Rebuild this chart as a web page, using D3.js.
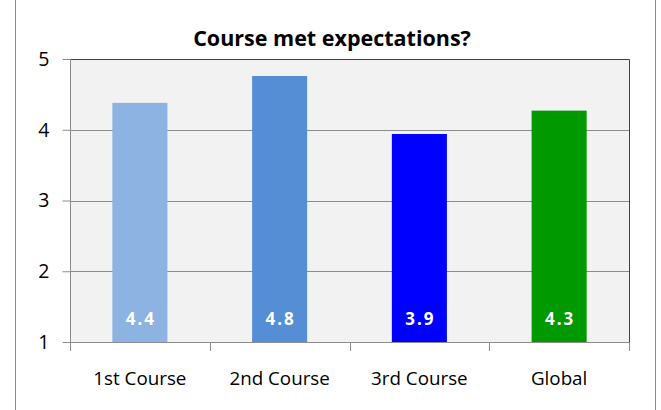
<!DOCTYPE html>
<html>
<head>
<meta charset="utf-8">
<title>Course met expectations?</title>
<script src="https://d3js.org/d3.v7.min.js"></script>
<style>
  body { margin: 0; background: #fff; }
  text { font-family: "Open Sans", "Noto Sans", sans-serif; }
</style>
</head>
<body>
<script>
// data
var categories = ["1st Course", "2nd Course", "3rd Course", "Global"];
var scores = [4.38, 4.76, 3.94, 4.27];
var barColors = ["#8db3e2", "#558ed5", "#0000ff", "#009900"];
var yTicks = [1, 2, 3, 4, 5];
var chartTitle = "Course met expectations?";

var width = 661, height = 410;
var plot = {left: 70, right: 629, top: 59, bottom: 342};

var svg = d3.select("body").append("svg")
  .attr("width", width)
  .attr("height", height);

// outer frame (left + right edges only visible)
svg.append("line").attr("x1", 15.5).attr("x2", 15.5).attr("y1", 0).attr("y2", height)
  .attr("stroke", "#8c8c8c").attr("stroke-width", 1);
svg.append("line").attr("x1", 655.5).attr("x2", 655.5).attr("y1", 0).attr("y2", height)
  .attr("stroke", "#8c8c8c").attr("stroke-width", 1);

var x = d3.scaleBand()
  .domain(categories)
  .range([plot.left, plot.right])
  .paddingInner(0.606)
  .paddingOuter(0.303);

var y = d3.scaleLinear()
  .domain([1, 5])
  .range([plot.bottom, plot.top]);

// plot background
svg.append("rect")
  .attr("x", plot.left).attr("y", plot.top)
  .attr("width", plot.right - plot.left)
  .attr("height", plot.bottom - plot.top)
  .attr("fill", "#f2f2f2");

// gridlines
svg.append("g").selectAll("line")
  .data(yTicks.filter(function(t) { return t > 1 && t < 5; }))
  .enter().append("line")
  .attr("x1", plot.left).attr("x2", plot.right)
  .attr("y1", function(d) { return Math.round(y(d)) + 0.5; })
  .attr("y2", function(d) { return Math.round(y(d)) + 0.5; })
  .attr("stroke", "#8c8c8c");

// top and right borders
svg.append("path")
  .attr("d", "M" + plot.left + "," + (plot.top + 0.5) + "H" + (plot.right + 0.5) + "V" + plot.bottom)
  .attr("fill", "none").attr("stroke", "#404040");

// bars
svg.selectAll(".bar")
  .data(scores)
  .enter().append("rect")
  .attr("class", "bar")
  .attr("x", function(d, i) { return x(categories[i]); })
  .attr("width", x.bandwidth())
  .attr("y", function(d) { return y(d); })
  .attr("height", function(d) { return y(1) - y(d); })
  .attr("fill", function(d, i) { return barColors[i]; });

// value labels
svg.selectAll(".val")
  .data(scores)
  .enter().append("text")
  .attr("class", "val")
  .attr("x", function(d, i) { return x(categories[i]) + x.bandwidth() / 2 + 1; })
  .attr("y", y(1) - 17)
  .attr("text-anchor", "middle")
  .attr("font-size", 17)
  .attr("font-weight", "bold")
  .attr("letter-spacing", 2)
  .attr("fill", "#fff")
  .text(function(d) { return d3.format(".1f")(d); });

// y axis
var yAxis = d3.axisLeft(y).tickValues(yTicks).tickSize(8).tickPadding(13).tickFormat(d3.format("d"));
var gy = svg.append("g")
  .attr("transform", "translate(" + (plot.left + 0.5) + ",0)")
  .call(yAxis);
gy.select(".domain").attr("stroke", "#8c8c8c").attr("d", "M0," + plot.top + "V" + (plot.bottom + 8));
gy.selectAll(".tick line").attr("stroke", "#8c8c8c");
gy.selectAll(".tick text").attr("font-size", 19.5).attr("fill", "#000").attr("font-family", "Open Sans");

// x axis with ticks at category boundaries
var bounds = d3.range(categories.length + 1).map(function(i) { return plot.left + i * x.step(); });
var gx = svg.append("g");
gx.append("line")
  .attr("x1", plot.left).attr("x2", plot.right + 0.5)
  .attr("y1", plot.bottom + 0.5).attr("y2", plot.bottom + 0.5)
  .attr("stroke", "#8c8c8c");
gx.selectAll(".xt")
  .data(bounds)
  .enter().append("line")
  .attr("x1", function(d) { return Math.round(d) + 0.5; })
  .attr("x2", function(d) { return Math.round(d) + 0.5; })
  .attr("y1", plot.bottom).attr("y2", plot.bottom + 9)
  .attr("stroke", "#8c8c8c");
gx.selectAll(".xl")
  .data(categories)
  .enter().append("text")
  .attr("x", function(d) { return x(d) + x.bandwidth() / 2; })
  .attr("y", 385)
  .attr("text-anchor", "middle")
  .attr("font-size", 18.8)
  .attr("fill", "#000")
  .text(function(d) { return d; });

// title
svg.append("text")
  .attr("x", 332)
  .attr("y", 46)
  .attr("text-anchor", "middle")
  .attr("font-size", 21.5)
  .attr("font-weight", "bold")
  .text(chartTitle);
</script>
</body>
</html>
